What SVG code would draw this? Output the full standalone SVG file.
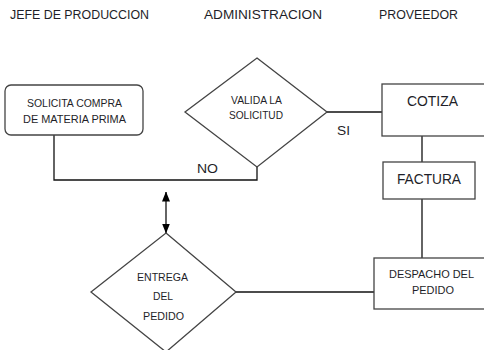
<svg xmlns="http://www.w3.org/2000/svg" width="484" height="350" viewBox="0 0 484 350">
<style>
text{font-family:"Liberation Sans",Arial,sans-serif;fill:#1e1e28;text-anchor:middle}
.shape{fill:#fff;stroke:#444;stroke-width:1.3}
.line{fill:none;stroke:#111;stroke-width:1.3}
.h{font-size:12.5px}
.s{font-size:11.2px}
.m{font-size:14px}
</style>
<defs>
<marker id="ah" viewBox="0 0 10 8" refX="9.5" refY="4" markerWidth="10" markerHeight="8" orient="auto-start-reverse" markerUnits="userSpaceOnUse">
<path d="M0,0 L10,4 L0,8 z" fill="#000"/>
</marker>
</defs>
<rect width="484" height="350" fill="#fff"/>
<g id="headers">
<text class="h" x="79.5" y="19" textLength="139" lengthAdjust="spacingAndGlyphs">JEFE DE PRODUCCION</text>
<text class="h" x="263" y="19" textLength="118" lengthAdjust="spacingAndGlyphs">ADMINISTRACION</text>
<text class="h" x="418.5" y="19" textLength="79" lengthAdjust="spacingAndGlyphs">PROVEEDOR</text>
</g>
<g id="connectors">
<polyline class="line" points="257,167 257,180 54,180 54,135"/>
<line class="line" x1="327" y1="112" x2="382" y2="112"/>
<line class="line" x1="422" y1="136" x2="422" y2="162"/>
<line class="line" x1="422" y1="199" x2="422" y2="258"/>
<line class="line" x1="236" y1="292" x2="374" y2="292"/>
<line class="line" x1="166" y1="192" x2="166" y2="233" marker-start="url(#ah)" marker-end="url(#ah)"/>
<text x="343.5" y="135" style="font-size:13px" textLength="13" lengthAdjust="spacingAndGlyphs">SI</text>
<text x="207.5" y="173" style="font-size:13px" textLength="21" lengthAdjust="spacingAndGlyphs">NO</text>
</g>
<g id="solicita">
<rect class="shape" x="5" y="85" width="138" height="50" rx="6"/>
<text class="s" x="74.5" y="107" textLength="95" lengthAdjust="spacingAndGlyphs">SOLICITA COMPRA</text>
<text class="s" x="74.5" y="123" textLength="103" lengthAdjust="spacingAndGlyphs">DE MATERIA PRIMA</text>
</g>
<g id="valida">
<polygon class="shape" points="257,58 327,112 257,167 185,112"/>
<text class="s" x="256.5" y="104" textLength="51" lengthAdjust="spacingAndGlyphs">VALIDA LA</text>
<text class="s" x="256" y="119" textLength="54" lengthAdjust="spacingAndGlyphs">SOLICITUD</text>
</g>
<g id="cotiza">
<rect class="shape" x="382" y="84" width="110" height="52"/>
<text class="m" x="432.5" y="106" style="font-size:14.8px" textLength="51" lengthAdjust="spacingAndGlyphs">COTIZA</text>
</g>
<g id="factura">
<rect class="shape" x="383" y="162" width="92" height="37"/>
<text class="m" x="429" y="184" textLength="64" lengthAdjust="spacingAndGlyphs">FACTURA</text>
</g>
<g id="despacho">
<rect class="shape" x="374" y="258" width="118" height="51"/>
<text class="s" x="431.5" y="278" textLength="85" lengthAdjust="spacingAndGlyphs">DESPACHO DEL</text>
<text class="s" x="433" y="294" textLength="42" lengthAdjust="spacingAndGlyphs">PEDIDO</text>
</g>
<g id="entrega">
<polygon class="shape" points="166,233 236,292 166,352 91,292"/>
<text class="s" x="162.5" y="281" textLength="51" lengthAdjust="spacingAndGlyphs">ENTREGA</text>
<text class="s" x="163" y="300" textLength="20" lengthAdjust="spacingAndGlyphs">DEL</text>
<text class="s" x="163.5" y="320" textLength="41" lengthAdjust="spacingAndGlyphs">PEDIDO</text>
</g>
</svg>
